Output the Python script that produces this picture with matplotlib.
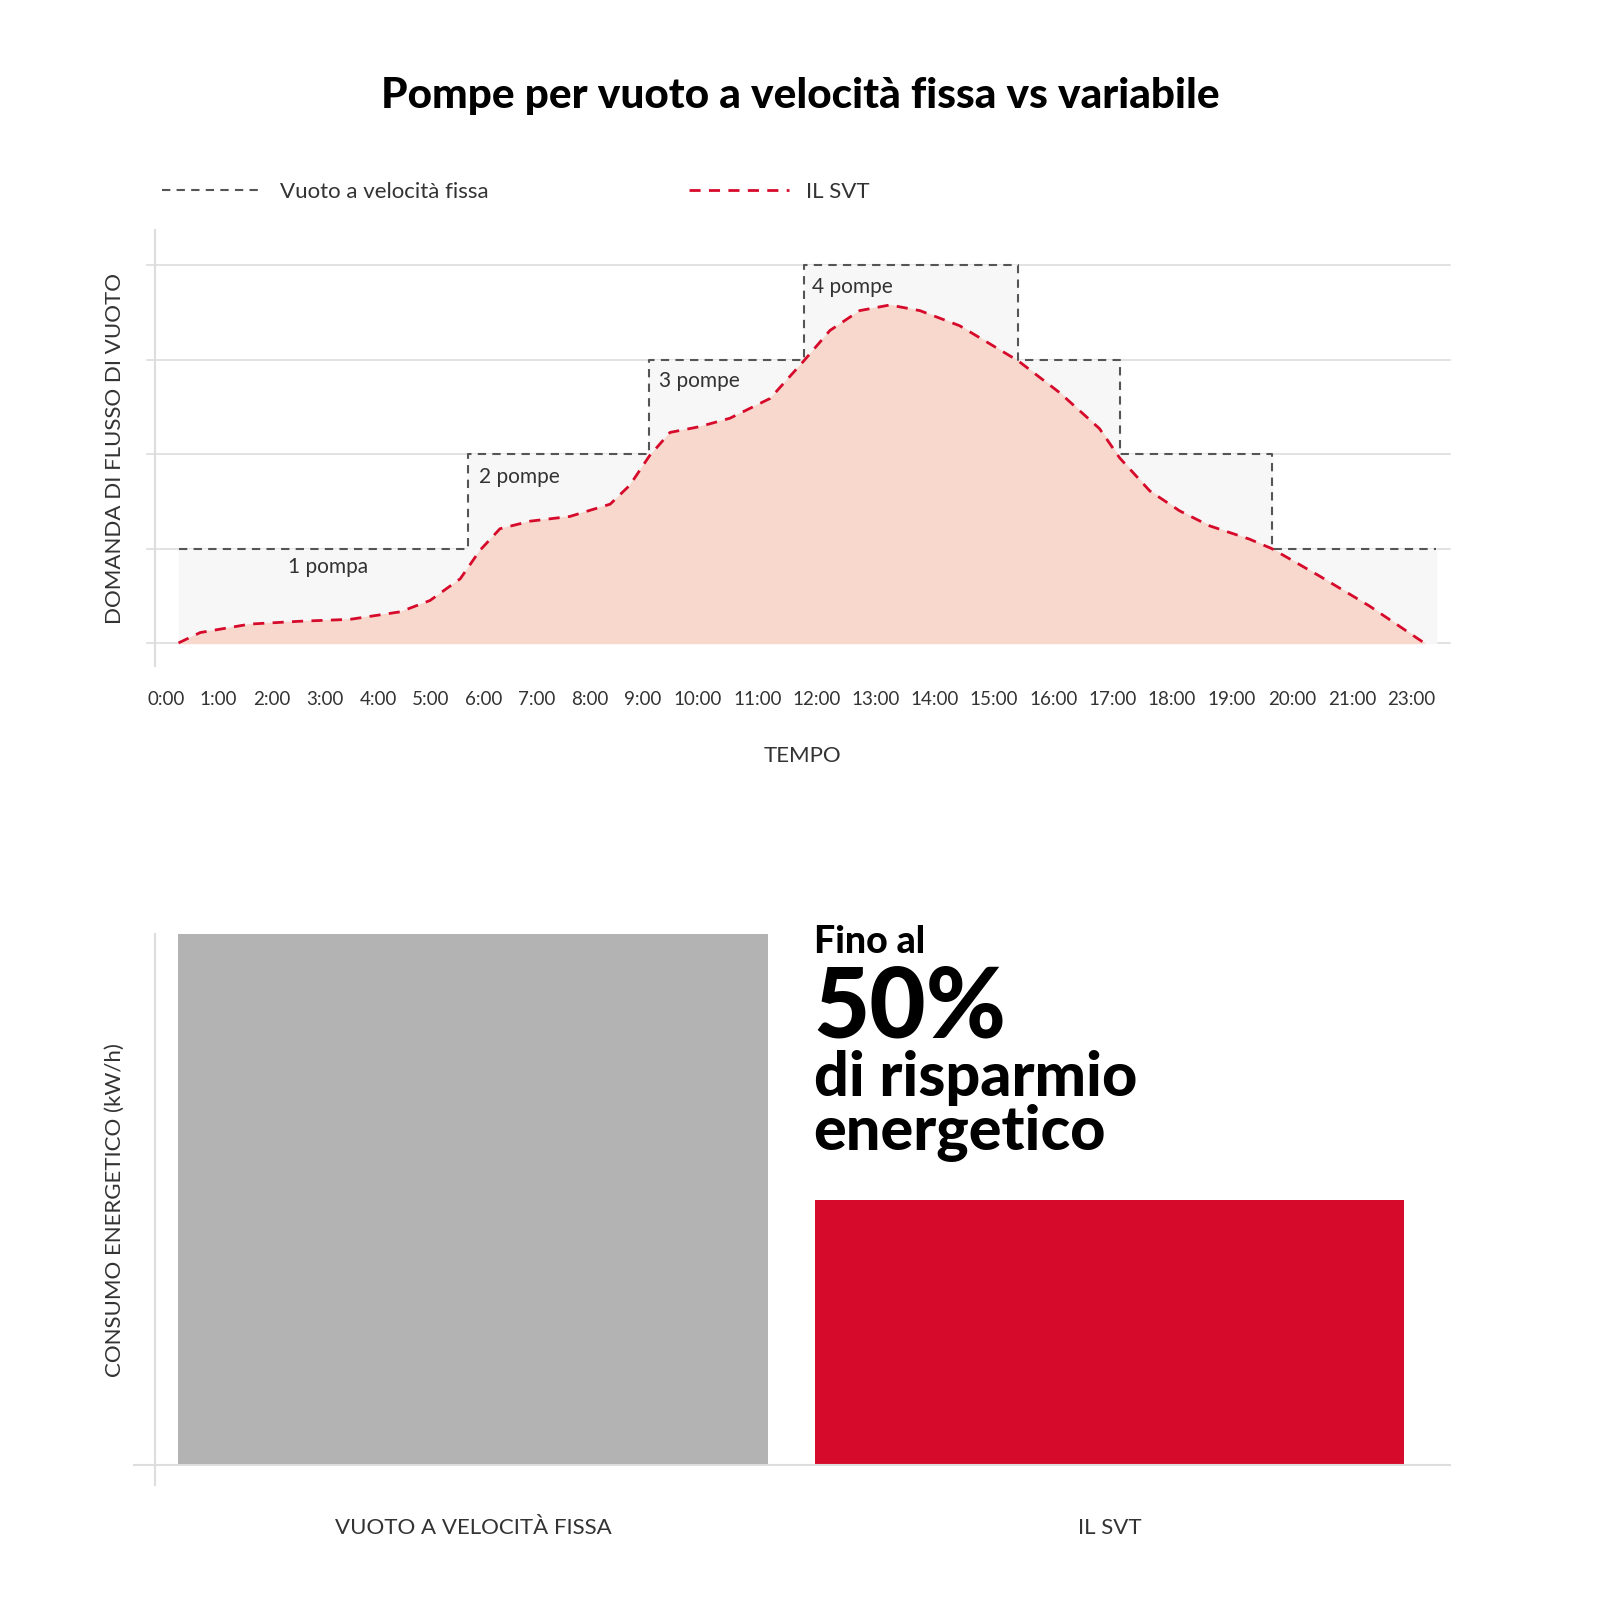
import matplotlib
matplotlib.use('Agg')
import matplotlib.pyplot as plt

plt.rcParams['font.family'] = ['Lato', 'DejaVu Sans']

# hours on the time axis (as laid out in the original chart)
TICK_POS = [0, 0.98, 2, 3, 4, 5, 6, 7, 8, 9, 10.04, 11.17, 12.28, 13.40, 14.51,
            15.62, 16.75, 17.87, 18.98, 20.11, 21.26, 22.4, 23.51]
TICK_LABELS = ["0:00", "1:00", "2:00", "3:00", "4:00", "5:00", "6:00", "7:00", "8:00",
               "9:00", "10:00", "11:00", "12:00", "13:00", "14:00", "15:00", "16:00",
               "17:00", "18:00", "19:00", "20:00", "21:00", "23:00"]

# fixed speed: number of pumps running
step_edges = [0.23, 5.70, 9.11, 12.04, 16.08, 18.0, 20.87, 23.98]
step_pumps = [1, 2, 3, 4, 3, 2, 1]
step_labels = ["1 pompa", "2 pompe", "3 pompe", "4 pompe"]

# variable speed demand curve
svt_x = [0.23, 0.64, 1.58, 2.53, 3.47, 4.42, 4.98, 5.55, 5.92, 6.30, 6.87, 7.62, 8.38,
         8.75, 9.12, 9.51, 10.06, 10.64, 11.40, 12.04, 12.53, 13.09, 13.66, 14.23,
         14.98, 16.08, 16.87, 17.62, 18.0, 18.57, 19.13, 19.70, 20.45, 20.87, 21.77,
         22.72, 23.75]
svt_y = [0, 0.11, 0.20, 0.23, 0.25, 0.33, 0.45, 0.68, 0.98, 1.21, 1.29, 1.34, 1.47,
         1.67, 1.98, 2.23, 2.29, 2.38, 2.59, 2.99, 3.31, 3.52, 3.58, 3.52, 3.36, 2.99,
         2.65, 2.27, 1.96, 1.61, 1.40, 1.24, 1.10, 1.0, 0.71, 0.39, 0]

bar_names = ["VUOTO A VELOCITÀ FISSA", "IL SVT"]
bar_values = [100, 50]

RED = "#d60a2a"
GRID = "#dddddd"
TXT = "#333333"

fig = plt.figure(figsize=(16, 16), dpi=100)
fig.text(0.5, 0.94, "Pompe per vuoto a velocità fissa vs variabile", ha='center', va='center',
         fontsize=30.5, fontweight='black', color='black')

ax = fig.add_axes([0.097, 0.584, 0.809, 0.272])
ax.set_xlim(-0.21, 24.23)
ax.set_ylim(-0.24, 4.37)
for lvl in range(5):
    ax.axhline(lvl, xmin=-0.006, color=GRID, lw=1.2, clip_on=False, zorder=0)

sx, sy = [], []
for i, p in enumerate(step_pumps):
    sx += [step_edges[i], step_edges[i + 1]]
    sy += [p, p]
ax.fill_between(sx, 0, sy, color='#f7f7f7', zorder=1)
ax.fill_between(svt_x, 0, svt_y, color='#f8d8cd', zorder=2)
ax.plot(sx, sy, color='#555555', lw=1.5, ls=(0, (4, 3)), zorder=3)
ax.plot(svt_x, svt_y, color=RED, lw=2, ls=(0, (4, 3)), zorder=4)

ax.text(2.3, 0.8, step_labels[0], fontsize=15, color=TXT, va='center')
ax.text(5.9, 1.76, step_labels[1], fontsize=15, color=TXT, va='center')
ax.text(9.3, 2.77, step_labels[2], fontsize=15, color=TXT, va='center')
ax.text(12.2, 3.77, step_labels[3], fontsize=15, color=TXT, va='center')

for s in ['top', 'right', 'bottom']:
    ax.spines[s].set_visible(False)
ax.spines['left'].set_color(GRID)
ax.spines['left'].set_linewidth(1.5)
ax.set_yticks([])
ax.set_xticks(TICK_POS)
ax.set_xticklabels(TICK_LABELS, fontsize=13.5, color=TXT)
ax.tick_params(axis='x', length=0, pad=18)
ax.set_xlabel("TEMPO", fontsize=16, color=TXT, labelpad=28)
ax.set_ylabel("DOMANDA DI FLUSSO DI VUOTO", fontsize=16, color=TXT, labelpad=22)

ax.plot([], [], color='#555555', lw=1.5, ls=(0, (4, 3)), label="Vuoto a velocità fissa")
ax.plot([], [], color=RED, lw=2, ls=(0, (4, 3)), label="IL SVT")
ax.legend(loc='lower left', bbox_to_anchor=(-0.01, 1.02), ncol=2, frameon=False,
          fontsize=16, handlelength=4.5, columnspacing=9, labelcolor=TXT)

bx = fig.add_axes([0.097, 0.072, 0.809, 0.344])
bx.set_xlim(-0.499, 1.534)
bx.set_ylim(-3.8, 100)
bx.bar([0, 1], bar_values, width=0.926, color=['#b3b3b3', RED], zorder=2)
bx.axhline(0, xmin=-0.016, color=GRID, lw=1.5, clip_on=False, zorder=3)
for s in ['top', 'right', 'bottom']:
    bx.spines[s].set_visible(False)
bx.spines['left'].set_color(GRID)
bx.spines['left'].set_linewidth(1.5)
bx.set_yticks([])
bx.set_xticks([0, 1])
bx.set_xticklabels(bar_names, fontsize=16, color=TXT)
bx.tick_params(axis='x', length=0, pad=24)
bx.set_ylabel("CONSUMO ENERGETICO (kW/h)", fontsize=16, color=TXT, labelpad=22)

bx.text(0.535, 98.5, "Fino al", fontsize=27, fontweight='black', va='center')
bx.text(0.535, 86, "50%", fontsize=70, fontweight='black', va='center')
bx.text(0.535, 73, "di risparmio", fontsize=44, fontweight='black', va='center')
bx.text(0.535, 62.5, "energetico", fontsize=44, fontweight='black', va='center')

fig.savefig("out.png")
